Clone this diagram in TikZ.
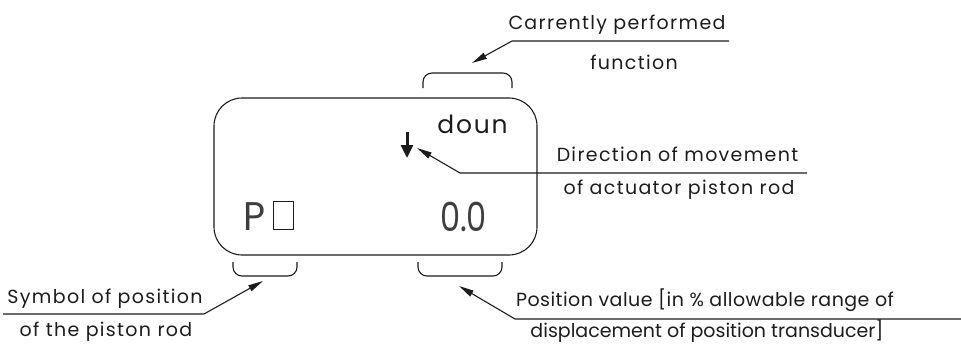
\documentclass[tikz,border=0pt]{standalone}
\usepackage{fontspec}
\setmainfont[LetterSpace=7]{Poppins}
\newfontfamily\valfont[LetterSpace=2.5]{Poppins}
\newfontfamily\valfontb{Poppins}
\newfontfamily\lcdfont[FakeStretch=0.8]{Poppins}
\newfontfamily\psymfont[FakeStretch=0.95]{Poppins}
\usetikzlibrary{arrows.meta,positioning}
\definecolor{ink}{RGB}{28,28,28}
\tikzset{
  lead/.style={-{Triangle[length=15pt,width=6.5pt]},line width=1.1pt,draw=ink},
  brk/.style={line width=1.1pt,draw=ink,rounded corners=9pt},
  lab/.style={font=\fontsize{19}{19}\selectfont,text=ink,inner sep=0pt,anchor=base},
  lcd/.style={font=\lcdfont\fontsize{40}{40}\selectfont,text=ink!85,inner sep=0pt,anchor=base},
  disptext/.style={font=\fontsize{25}{25}\selectfont,text=ink,inner sep=0pt,anchor=base}
}
\begin{document}
\begin{tikzpicture}[x=1pt,y=-1pt]
  \useasboundingbox (0,0) rectangle (961,348);

  % display
  \node[draw=ink,line width=1.1pt,rounded corners=28pt,minimum width=323pt,minimum height=157pt] (disp) at (375.5,176.5) {};
  \node[disptext] (doun) at (472.5,133) {doun};
  \node[lcd,font=\psymfont\fontsize{40}{40}\selectfont,anchor=base west] (psym) at (243,230) {P};
  \node[draw=ink,line width=1.1pt,inner sep=0pt,minimum width=20pt,minimum height=28pt,anchor=south west] (pbox) at (273,230) {};
  \node[lcd] (pval) at (463.5,231) {0.0};
  \coordinate (dirA) at (407,132);
  \coordinate (dirB) at (407,158);
  \draw[ink,line width=3pt,-{Triangle[length=13pt,width=12pt]}] (dirA) -- (dirB);

  % brackets
  \draw[brk] (423,88) -- (423,73) -- (512,73) -- (512,88);
  \draw[brk] (233,262) -- (233,276) -- (297,276) -- (297,262);
  \draw[brk] (418,262) -- (418,276) -- (502,276) -- (502,262);

  % function label
  \node[lab] (fn1) at (617,29) {Carrently performed};
  \node[lab] (fn2) at (634,69) {function};
  \coordinate (fnR) at (729,41);
  \coordinate (fnK) at (512,41);
  \coordinate (fnT) at (472,63);
  \draw[lead] (fnR) -- (fnK) -- (fnT);

  % direction label
  \node[lab] (dir1) at (677.5,161) {Direction of movement};
  \node[lab] (dir2) at (679,194) {of actuator piston rod};
  \coordinate (dirR) at (807,173);
  \coordinate (dirK) at (460,173);
  \coordinate (dirT) at (417,148);
  \draw[lead] (dirR) -- (dirK) -- (dirT);

  % symbol label
  \node[lab] (sym1) at (105,303) {Symbol of position};
  \node[lab] (sym2) at (106,336) {of the piston rod};
  \coordinate (symL) at (3,314);
  \coordinate (symK) at (204,314);
  \coordinate (symT) at (263,281);
  \draw[lead] (symL) -- (symK) -- (symT);

  % value label
  \node[lab,font=\valfont\fontsize{19}{19}\selectfont] (val1) at (705,306) {Position value [in \% allowable range of};
  \node[lab,font=\valfontb\fontsize{19}{19}\selectfont] (val2) at (707,337) {displacement of position transducer]};
  \coordinate (valR) at (961,319);
  \coordinate (valK) at (515,319);
  \coordinate (valT) at (459,286);
  \draw[lead] (valR) -- (valK) -- (valT);
\end{tikzpicture}
\end{document}
